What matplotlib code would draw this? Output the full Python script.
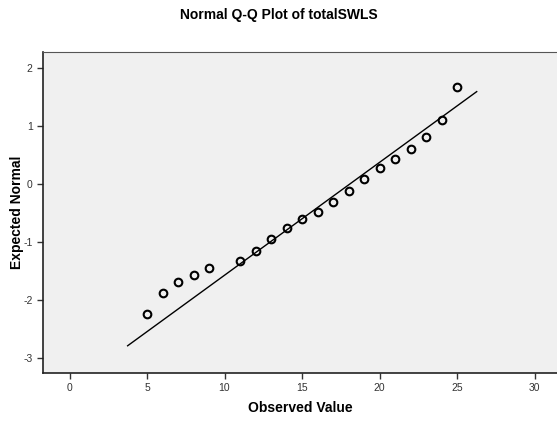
import numpy as np
import matplotlib.pyplot as plt

plt.rcParams['font.family'] = ['Liberation Sans', 'DejaVu Sans']
plt.rcParams['axes.unicode_minus'] = False

# observed totalSWLS values and their expected normal scores
observed = [5, 6, 7, 8, 9, 11, 12, 13, 14, 15, 16, 17, 18, 19, 20, 21, 22, 23, 24, 25]
expected = [-2.24, -1.88, -1.69, -1.57, -1.45, -1.32, -1.15, -0.95, -0.75, -0.60,
            -0.48, -0.31, -0.11, 0.09, 0.28, 0.44, 0.615, 0.82, 1.105, 1.68]

# reference line: (x - mean) / sd
mean_val = 18.06
sd_val = 5.13
line_x = [3.75, 26.27]

x_ticks = [0, 5, 10, 15, 20, 25, 30]
y_ticks = [-3, -2, -1, 0, 1, 2]

fig = plt.figure(figsize=(5.57, 4.21), dpi=100)
ax = fig.add_axes([0.0772, 0.114, 0.9228, 0.7625])
ax.set_facecolor('#f0f0f0')

lx = np.array(line_x)
ax.plot(lx, (lx - mean_val) / sd_val, color='black', lw=1.0)
ax.plot(observed, expected, 'o', mfc='none', mec='black', ms=5.5, mew=1.5)

ax.set_xlim(-1.71, 31.45)
ax.set_ylim(-3.26, 2.285)
ax.set_xticks(x_ticks)
ax.set_yticks(y_ticks)
ax.tick_params(labelsize=7.5, labelcolor='#333333', length=4, width=1, color='#333333')

ax.spines['left'].set_color('#222222')
ax.spines['bottom'].set_color('#222222')
ax.spines['left'].set_linewidth(1.2)
ax.spines['bottom'].set_linewidth(1.2)
ax.spines['top'].set_color('#555555')
ax.spines['right'].set_visible(False)

ax.set_xlabel('Observed Value', fontsize=10, fontweight='bold')
ax.set_ylabel('Expected Normal', fontsize=10, fontweight='bold')
ax.xaxis.set_label_coords(0.5, -0.088)
ax.yaxis.set_label_coords(-0.036, 0.5)
fig.text(0.5, 0.965, 'Normal Q-Q Plot of totalSWLS', ha='center', va='center',
         fontsize=10, fontweight='bold')

fig.savefig('out.png', dpi=100)
